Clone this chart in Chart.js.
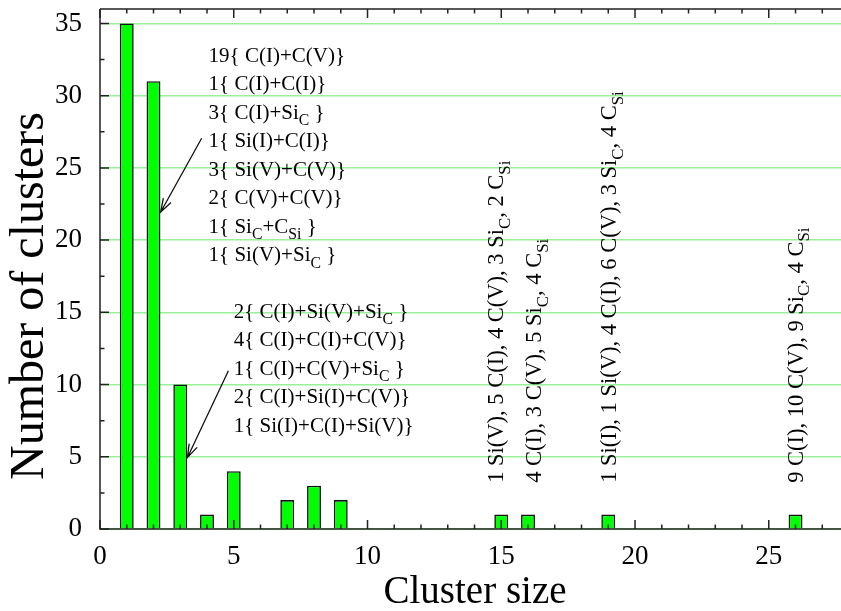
<!DOCTYPE html>
<html>
<head>
<meta charset="utf-8">
<title>Cluster size distribution</title>
<script src="https://cdn.jsdelivr.net/npm/chart.js@4.4.1/dist/chart.umd.min.js"></script>
<style>
    html, body { margin: 0; padding: 0; background: #fff; }
    #wrap { width: 841px; height: 611px; }
</style>
</head>
<body>
<div id="wrap"><canvas id="cluster-chart" width="841" height="611"></canvas></div>
<script>
// cluster size -> number of clusters of that size
const clusterSizes = [1, 2, 3, 4, 5, 7, 8, 9, 15, 16, 19, 26];
const clusterCounts = [35, 31, 10, 1, 4, 2, 3, 2, 1, 1, 1, 1];

const xTickValues = [0, 5, 10, 15, 20, 25];
const yTickValues = [0, 5, 10, 15, 20, 25, 30, 35];

// composition of the size-2 and size-3 clusters ("_{..}" = subscript)
const pairTypes = [
    "19{ C(I)+C(V)}",
    "1{ C(I)+C(I)}",
    "3{ C(I)+Si_{C} }",
    "1{ Si(I)+C(I)}",
    "3{ Si(V)+C(V)}",
    "2{ C(V)+C(V)}",
    "1{ Si_{C}+C_{Si} }",
    "1{ Si(V)+Si_{C} }"
];
const tripleTypes = [
    "2{ C(I)+Si(V)+Si_{C} }",
    "4{ C(I)+C(I)+C(V)}",
    "1{ C(I)+C(V)+Si_{C} }",
    "2{ C(I)+Si(I)+C(V)}",
    "1{ Si(I)+C(I)+Si(V)}"
];

// contents of the large clusters
const largeClusterSizes = [15, 16, 19, 26];
const largeClusterContents = [
    "1 Si(V), 5 C(I), 4 C(V), 3 Si_{C}, 2 C_{Si}",
    "4 C(I), 3 C(V), 5 Si_{C}, 4 C_{Si}",
    "1 Si(I), 1 Si(V), 4 C(I), 6 C(V), 3 Si_{C}, 4 C_{Si}",
    "9 C(I), 10 C(V), 9 Si_{C}, 4 C_{Si}"
];

const SERIF = '"Liberation Serif", "Times New Roman", serif';

// split "Si_{C}" style strings into normal / subscript pieces
function parseRich(str) {
    const parts = [];
    const re = /_\{([^}]*)\}/g;
    let last = 0, m;
    while ((m = re.exec(str)) !== null) {
        if (m.index > last) parts.push({ text: str.slice(last, m.index), sub: false });
        parts.push({ text: m[1], sub: true });
        last = re.lastIndex;
    }
    if (last < str.length) parts.push({ text: str.slice(last), sub: false });
    return parts;
}

function drawRich(ctx, str, x, y, size) {
    let cx = x;
    parseRich(str).forEach(p => {
        const s = p.sub ? size * 0.75 : size;
        ctx.font = s + "px " + SERIF;
        ctx.fillText(p.text, cx, p.sub ? y + size * 0.3 : y);
        cx += ctx.measureText(p.text).width;
    });
}

function drawArrow(ctx, x1, y1, x2, y2) {
    const ang = Math.atan2(y2 - y1, x2 - x1);
    const head = 14, spread = 0.32;
    ctx.beginPath();
    ctx.moveTo(x1, y1);
    ctx.lineTo(x2, y2);
    ctx.moveTo(x2 - head * Math.cos(ang - spread), y2 - head * Math.sin(ang - spread));
    ctx.lineTo(x2, y2);
    ctx.lineTo(x2 - head * Math.cos(ang + spread), y2 - head * Math.sin(ang + spread));
    ctx.stroke();
}

// frame, inward ticks, arrows, labels and axis titles
const decorations = {
    id: "decorations",
    afterDatasetsDraw(chart) {
        const ctx = chart.ctx;
        const area = chart.chartArea;
        const xs = chart.scales.x;
        const ys = chart.scales.y;

        ctx.save();
        ctx.strokeStyle = "#222";
        ctx.lineWidth = 1.5;
        ctx.beginPath();
        ctx.moveTo(area.left, area.top);
        ctx.lineTo(area.right, area.top);
        ctx.moveTo(area.left, area.top);
        ctx.lineTo(area.left, area.bottom);
        ctx.lineTo(area.right, area.bottom);
        ctx.stroke();

        // x ticks on bottom and top, one per unit
        ctx.beginPath();
        for (let v = 0; v <= xs.max; v++) {
            const px = xs.getPixelForValue(v);
            const len = v % 5 === 0 ? 9 : 4.5;
            ctx.moveTo(px, area.bottom);
            ctx.lineTo(px, area.bottom - len);
            ctx.moveTo(px, area.top);
            ctx.lineTo(px, area.top + len);
        }
        // y ticks every 2.5
        for (let v = 0; v <= ys.max; v += 2.5) {
            const py = ys.getPixelForValue(v);
            const len = v % 5 === 0 ? 9 : 4.5;
            ctx.moveTo(area.left, py);
            ctx.lineTo(area.left + len, py);
        }
        ctx.stroke();

        // arrows pointing at the size-2 and size-3 bars
        ctx.strokeStyle = "#111";
        ctx.lineWidth = 1.3;
        drawArrow(ctx, xs.getPixelForValue(3.8), ys.getPixelForValue(27.05),
            xs.getPixelForValue(2.27), ys.getPixelForValue(21.95));
        drawArrow(ctx, xs.getPixelForValue(4.8), ys.getPixelForValue(10.95),
            xs.getPixelForValue(3.27), ys.getPixelForValue(4.95));

        ctx.fillStyle = "#000";
        ctx.textAlign = "left";
        ctx.textBaseline = "alphabetic";
        const lineGap = 28.5;

        let bx = xs.getPixelForValue(4.06);
        let by = ys.getPixelForValue(32.35);
        pairTypes.forEach((t, i) => drawRich(ctx, t, bx, by + i * lineGap, 21));

        bx = xs.getPixelForValue(5.0);
        by = ys.getPixelForValue(14.62);
        tripleTypes.forEach((t, i) => drawRich(ctx, t, bx, by + i * lineGap, 21));

        // vertical labels above the large clusters
        const offsets = [0.06, 0.48, 0.28, 0.27];
        largeClusterSizes.forEach((s, i) => {
            ctx.save();
            ctx.translate(xs.getPixelForValue(s + offsets[i]), ys.getPixelForValue(3.2));
            ctx.rotate(-Math.PI / 2);
            drawRich(ctx, largeClusterContents[i], 0, 0, 22.5);
            ctx.restore();
        });

        // axis titles
        ctx.textAlign = "center";
        ctx.font = "39px " + SERIF;
        ctx.fillText("Cluster size", 475, 603);
        ctx.save();
        ctx.translate(43, 296);
        ctx.rotate(-Math.PI / 2);
        ctx.font = "48px " + SERIF;
        ctx.fillText("Number of clusters", 0, 0);
        ctx.restore();

        ctx.restore();
    }
};

document.addEventListener("DOMContentLoaded", () => {
    const ctx = document.getElementById("cluster-chart").getContext("2d");

    new Chart(ctx, {
        type: "bar",
        data: {
            datasets: [{
                data: clusterSizes.map((s, i) => ({ x: s, y: clusterCounts[i] })),
                backgroundColor: "#00ff00",
                borderColor: "#111",
                borderWidth: 1.6,
                barPercentage: 0.52,
                categoryPercentage: 1.0
            }]
        },
        options: {
            responsive: false,
            animation: false,
            layout: { padding: { top: 9, right: 0, left: 0, bottom: 0 } },
            plugins: {
                legend: { display: false },
                tooltip: { enabled: false }
            },
            scales: {
                x: {
                    type: "linear",
                    offset: false,
                    min: 0,
                    max: 27.7,
                    afterBuildTicks: axis => { axis.ticks = xTickValues.map(v => ({ value: v })); },
                    afterFit: axis => {
                        axis.height = 82;
                        axis.paddingLeft = 0;
                        axis.paddingRight = 0;
                    },
                    grid: { display: false, drawTicks: false, offset: false },
                    border: { display: false },
                    ticks: {
                        padding: 12,
                        maxRotation: 0,
                        autoSkip: false,
                        color: "#000",
                        font: { family: SERIF, size: 27 }
                    }
                },
                y: {
                    min: 0,
                    max: 36,
                    afterBuildTicks: axis => { axis.ticks = yTickValues.map(v => ({ value: v })); },
                    afterFit: axis => {
                        axis.width = 100;
                        axis.paddingTop = 0;
                        axis.paddingBottom = 0;
                    },
                    grid: { color: "#98f098", lineWidth: 1.5, drawTicks: false },
                    border: { display: false },
                    ticks: {
                        padding: 18,
                        autoSkip: false,
                        color: "#000",
                        font: { family: SERIF, size: 27 }
                    }
                }
            }
        },
        plugins: [decorations]
    });
});
</script>
</body>
</html>
